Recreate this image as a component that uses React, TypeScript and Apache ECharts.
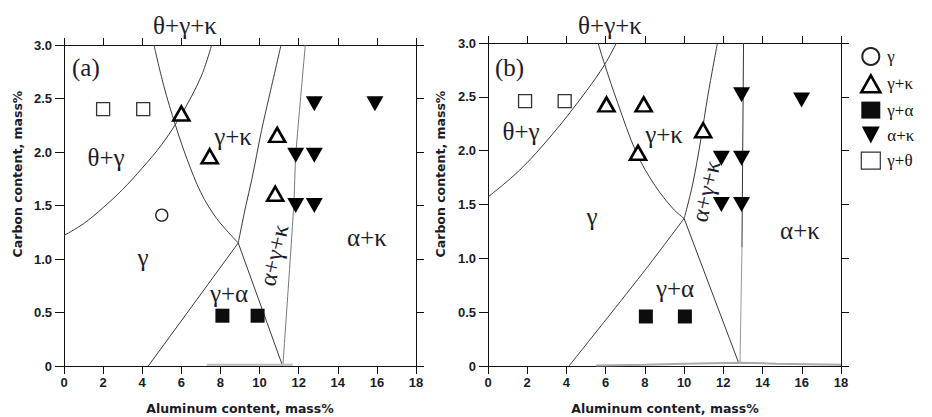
import React, { useEffect, useRef } from "react";
import * as echarts from "echarts";

// ---------- Panel (a): phase boundaries, [Al mass%, C mass%] ----------
const aThetaGamma = [[0, 1.22], [1, 1.33], [2, 1.48], [3, 1.65], [4, 1.85], [5, 2.07], [6, 2.35], [7, 2.7], [7.55, 3.0]];
const aGammaKappa = [[4.6, 3.0], [5.1, 2.62], [5.7, 2.25], [6.3, 1.93], [7.0, 1.62], [7.8, 1.38], [8.91, 1.15]];
const aGammaAlphaRight = [[8.91, 1.15], [11.18, 0.0]];
const aGammaAlphaLeft = [[4.31, 0.0], [8.91, 1.15]];
const aKappaThree = [[11.1, 3.0], [10.47, 2.5], [10.1, 2.2], [9.6, 1.74], [9.3, 1.5], [8.91, 1.15]];
const aThreeAlphaKappa = [[12.34, 3.0], [11.85, 1.97], [11.75, 1.5], [11.2, 0.02]];
const aBaseLine = [[7.3, 0.012], [11.7, 0.012]];

// Panel (a): experimental points
const aGamma = [[5.0, 1.41]];
const aGammaKappaPts = [[6.0, 2.36], [7.45, 1.96], [10.9, 2.16], [10.8, 1.61]];
const aGammaAlphaPts = [[8.1, 0.47], [9.9, 0.47]];
const aAlphaKappaPts = [[12.8, 2.45], [15.9, 2.45], [11.85, 1.97], [12.8, 1.97], [11.85, 1.5], [12.8, 1.5]];
const aGammaThetaPts = [[2.0, 2.4], [4.05, 2.4]];

// ---------- Panel (b): phase boundaries ----------
const bThetaGamma = [[0, 1.57], [1.62, 1.82], [3.32, 2.16], [5.0, 2.55], [5.95, 2.8], [6.55, 3.0]];
const bGammaKappa = [[5.61, 3.0], [5.95, 2.8], [6.6, 2.45], [7.57, 1.98], [8.5, 1.68], [9.44, 1.46], [10.0, 1.37]];
const bGammaAlphaRight = [[10.0, 1.37], [12.8, 0.02]];
const bGammaAlphaLeft = [[4.13, 0.0], [6.1, 0.45], [8.05, 0.9], [10.0, 1.37]];
const bKappaThree = [[11.7, 3.0], [11.2, 2.5], [10.85, 2.1], [10.45, 1.7], [10.12, 1.45], [10.0, 1.37]];
const bThreeAlphaKappaUpper = [[13.03, 3.0], [12.95, 1.1]];
const bThreeAlphaKappaLower = [[12.95, 1.1], [12.85, 0.03]];
const bBaseLine = [[5.5, 0.005], [8.0, 0.012], [10.0, 0.02], [12.8, 0.03], [14.7, 0.022], [18.0, 0.012]];

// Panel (b): experimental points
const bGammaKappaPts = [[6.04, 2.43], [7.94, 2.43], [10.97, 2.19], [7.65, 1.98]];
const bGammaAlphaPts = [[8.05, 0.46], [10.04, 0.46]];
const bAlphaKappaPts = [[12.93, 2.52], [15.99, 2.47], [11.9, 1.93], [12.93, 1.93], [11.9, 1.5], [12.93, 1.5]];
const bGammaThetaPts = [[1.89, 2.46], [3.91, 2.46]];

// Axis ranges / ticks
const X_MIN = 0, X_MAX = 18, X_STEP = 2;
const Y_MIN = 0, Y_MAX = 3, Y_STEP = 0.5;

// Legend names
const LEGEND_NAMES = ["γ", "γ+κ", "γ+α", "α+κ", "γ+θ"];

// Phase-field annotation texts
const PHASE_TEXTS_A = ["θ+γ+κ", "(a)", "θ+γ", "γ+κ", "γ", "γ+α", "α+κ", "α+γ+κ"];
const PHASE_TEXTS_B = ["θ+γ+κ", "(b)", "θ+γ", "γ+κ", "γ", "γ+α", "α+κ", "α+γ+κ"];

const SERIF = "'Liberation Serif', 'Times New Roman', 'DejaVu Serif', serif";
const SANS = "'DejaVu Sans', 'Liberation Sans', Arial, sans-serif";
const TICKFONT = "'Liberation Sans', Arial, sans-serif";

export default function App() {
  const ref = useRef<HTMLDivElement>(null);

  useEffect(() => {
    if (!ref.current) return;
    const chart = echarts.init(ref.current, null, { renderer: "svg" });

    const grids = [
      { left: 64, top: 45, width: 352, height: 321 },
      { left: 488, top: 43, width: 353, height: 323 },
    ];

    const xBottom = (gi: number) => ({
      type: "value", gridIndex: gi, min: X_MIN, max: X_MAX, interval: X_STEP, position: "bottom",
      axisLine: { show: true, onZero: false, lineStyle: { color: "#111", width: 1 } },
      axisTick: { show: true, length: 8, lineStyle: { color: "#111", width: 1 } },
      axisLabel: { margin: 10, color: "#1b1b28", fontFamily: TICKFONT, fontWeight: "bold", fontSize: 13 },
      splitLine: { show: false },
    });
    const xTop = (gi: number) => ({
      type: "value", gridIndex: gi, min: X_MIN, max: X_MAX, interval: X_STEP, position: "top",
      axisLine: { show: true, onZero: false, lineStyle: { color: "#111", width: 1 } },
      axisTick: { show: true, length: 7, lineStyle: { color: "#111", width: 1 } },
      axisLabel: { show: false },
      splitLine: { show: false },
    });
    const yLeft = (gi: number) => ({
      type: "value", gridIndex: gi, min: Y_MIN, max: Y_MAX, interval: Y_STEP, position: "left",
      axisLine: { show: true, onZero: false, lineStyle: { color: "#111", width: 1 } },
      axisTick: { show: true, length: 9, lineStyle: { color: "#111", width: 1 } },
      axisLabel: {
        margin: 12, color: "#1b1b28", fontFamily: TICKFONT, fontWeight: "bold", fontSize: 13,
        formatter: (v: number) => (v === 0 ? "0" : v.toFixed(1)),
      },
      splitLine: { show: false },
    });
    const yRight = (gi: number) => ({
      type: "value", gridIndex: gi, min: Y_MIN, max: Y_MAX, interval: Y_STEP, position: "right",
      axisLine: { show: true, onZero: false, lineStyle: { color: "#111", width: 1 } },
      axisTick: { show: true, length: 8, lineStyle: { color: "#111", width: 1 } },
      axisLabel: { show: false },
      splitLine: { show: false },
    });

    const line = (data: number[][], ai: number, color = "#3a3a3a", smooth: number | boolean = 0.35, width = 1) => ({
      type: "line", xAxisIndex: ai, yAxisIndex: ai, data, showSymbol: false, symbol: "none",
      smooth, lineStyle: { color, width }, silent: true, z: 2,
    });

    const styles: Record<string, any> = {
      "γ": { symbol: "circle", symbolSize: 12, itemStyle: { color: "#fff", borderColor: "#222", borderWidth: 1.3, opacity: 1 } },
      "γ+κ": { symbol: "triangle", symbolSize: [16, 14], itemStyle: { color: "#fff", borderColor: "#000", borderWidth: 2.6, opacity: 1 } },
      "γ+α": { symbol: "rect", symbolSize: 14, itemStyle: { color: "#0d0d0d", borderColor: "#0d0d0d", borderWidth: 0, opacity: 1 } },
      "α+κ": { symbol: "triangle", symbolSize: [17, 15], symbolRotate: 180, itemStyle: { color: "#000", borderColor: "#000", borderWidth: 0, opacity: 1 } },
      "γ+θ": { symbol: "rect", symbolSize: 13, itemStyle: { color: "#fff", borderColor: "#333", borderWidth: 1.3, opacity: 1 } },
    };
    const scatter = (name: string, data: number[][], ai: number) => ({
      type: "scatter", name, xAxisIndex: ai, yAxisIndex: ai, data, z: 5, silent: true,
      ...styles[name],
    });

    const labelFont = (size: number) => `${size}px ${SERIF}`;
    const txt = (text: string, x: number, y: number, size = 25, rotation = 0, align = "center") => ({
      type: "text", x, y, rotation, z: 10, silent: true,
      style: { text, font: labelFont(size), fill: "#1c1c2a", align, verticalAlign: "middle" },
    });

    const axisName = (text: string, x: number, y: number, rotation = 0) => ({
      type: "text", x, y, rotation, silent: true,
      style: { text, font: `bold 12.5px ${SANS}`, fill: "#1b1b28", align: "center", verticalAlign: "middle" },
    });

    const graphic = [
      // panel (a)
      txt(PHASE_TEXTS_A[0], 185, 25),
      txt(PHASE_TEXTS_A[1], 72, 67, 25, 0, "left"),
      txt(PHASE_TEXTS_A[2], 106, 157),
      txt(PHASE_TEXTS_A[3], 233, 136),
      txt(PHASE_TEXTS_A[4], 143, 257),
      txt(PHASE_TEXTS_A[5], 229, 293),
      txt(PHASE_TEXTS_A[6], 367, 237),
      txt(PHASE_TEXTS_A[7], 274, 255, 24, (77 * Math.PI) / 180),
      // panel (b)
      txt(PHASE_TEXTS_B[0], 610, 25),
      txt(PHASE_TEXTS_B[1], 495, 67, 25, 0, "left"),
      txt(PHASE_TEXTS_B[2], 521, 131),
      txt(PHASE_TEXTS_B[3], 664, 134),
      txt(PHASE_TEXTS_B[4], 592, 216),
      txt(PHASE_TEXTS_B[5], 675, 288),
      txt(PHASE_TEXTS_B[6], 800, 230),
      txt(PHASE_TEXTS_B[7], 706, 191, 24, (77 * Math.PI) / 180),
      // axis names
      axisName("Carbon content, mass%", 17, 174, Math.PI / 2),
      axisName("Carbon content, mass%", 440, 174, Math.PI / 2),
      axisName("Aluminum content, mass%", 240, 408),
      axisName("Aluminum content, mass%", 665, 408),
    ];

    const legendData = [
      { name: LEGEND_NAMES[0] },
      { name: LEGEND_NAMES[1], itemStyle: { borderWidth: 2.6 } },
      { name: LEGEND_NAMES[2] },
      { name: LEGEND_NAMES[3], icon: "path://M0,0 L20,0 L10,19 Z" },
      { name: LEGEND_NAMES[4], itemStyle: { borderWidth: 1.2 } },
    ];

    const option: any = {
      animation: false,
      backgroundColor: "#fff",
      grid: grids,
      xAxis: [xBottom(0), xTop(0), xBottom(1), xTop(1)],
      yAxis: [yLeft(0), yRight(0), yLeft(1), yRight(1)],
      legend: {
        data: legendData,
        orient: "vertical",
        left: 855,
        top: 42,
        itemWidth: 19,
        itemHeight: 17,
        itemGap: 8,
        selectedMode: false,
        textStyle: { fontFamily: SERIF, fontSize: 17, color: "#111", padding: [0, 0, 0, 2] },
      },
      graphic,
      series: [
        // panel (a) boundaries
        line(aThetaGamma, 0),
        line(aGammaKappa, 0),
        line(aGammaAlphaRight, 0, "#3a3a3a", false),
        line(aGammaAlphaLeft, 0, "#3a3a3a", false),
        line(aKappaThree, 0),
        line(aThreeAlphaKappa, 0, "#777", 0.2),
        line(aBaseLine, 0, "#bbb", false, 2),
        // panel (a) points
        scatter("γ", aGamma, 0),
        scatter("γ+κ", aGammaKappaPts, 0),
        scatter("γ+α", aGammaAlphaPts, 0),
        scatter("α+κ", aAlphaKappaPts, 0),
        scatter("γ+θ", aGammaThetaPts, 0),
        // panel (b) boundaries (axis index 2)
        line(bThetaGamma, 2),
        line(bGammaKappa, 2),
        line(bGammaAlphaRight, 2, "#3a3a3a", false),
        line(bGammaAlphaLeft, 2, "#3a3a3a", 0.2),
        line(bKappaThree, 2),
        line(bThreeAlphaKappaUpper, 2, "#333", false),
        line(bThreeAlphaKappaLower, 2, "#999", false),
        line(bBaseLine, 2, "#aaa", false, 2),
        // panel (b) points
        scatter("γ+κ", bGammaKappaPts, 2),
        scatter("γ+α", bGammaAlphaPts, 2),
        scatter("α+κ", bAlphaKappaPts, 2),
        scatter("γ+θ", bGammaThetaPts, 2),
      ],
    };

    chart.setOption(option);
    return () => chart.dispose();
  }, []);

  return (
    <div
      ref={ref}
      style={{ position: "fixed", left: 0, top: 0, width: 932, height: 417, background: "#fff" }}
    />
  );
}
